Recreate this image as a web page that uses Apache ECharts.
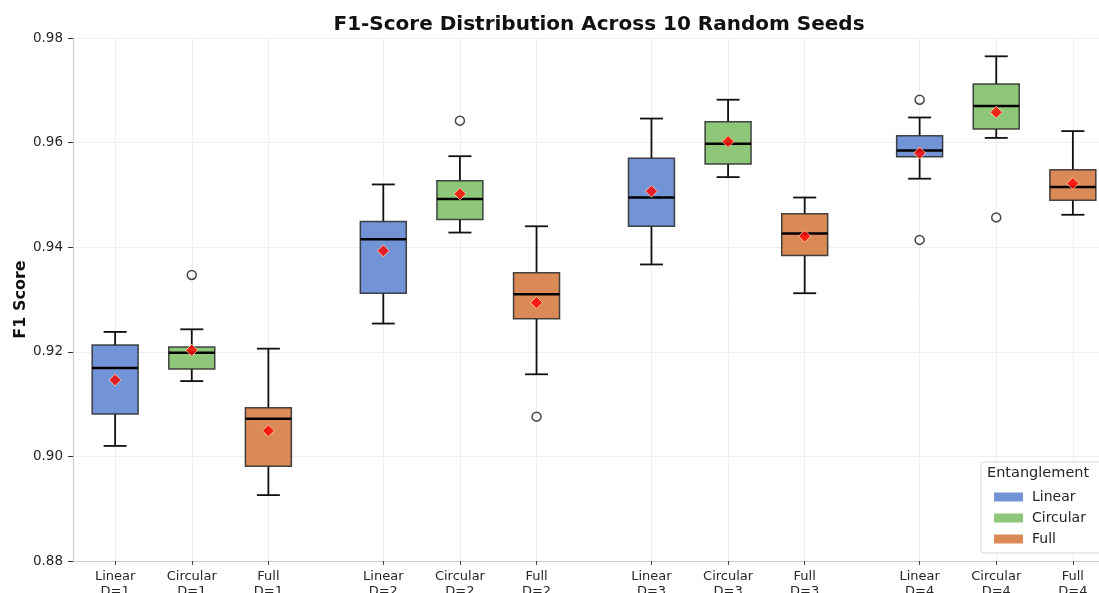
<!DOCTYPE html>
<html>
<head>
<meta charset="utf-8">
<script src="https://cdn.jsdelivr.net/npm/echarts@6/dist/echarts.min.js"></script>
<style>html,body{margin:0;padding:0;background:#fff;}#c{width:1099px;height:593px;}</style>
</head>
<body>
<div id="c"></div>
<script>
// ---- data ----
const types = ['Linear', 'Circular', 'Full'];
const depthLabels = ['D=1', 'D=2', 'D=3', 'D=4'];
// per depth: [whiskerLow, Q1, median, Q3, whiskerHigh]
const linearBox = [
  [0.9020, 0.9081, 0.9169, 0.9213, 0.9238],
  [0.9254, 0.9312, 0.9415, 0.9449, 0.9520],
  [0.9367, 0.9440, 0.9495, 0.9570, 0.9646],
  [0.9531, 0.9573, 0.9585, 0.9613, 0.9648]
];
const circularBox = [
  [0.9144, 0.9167, 0.9198, 0.9209, 0.9243],
  [0.9428, 0.9453, 0.9492, 0.9527, 0.9574],
  [0.9534, 0.9559, 0.9598, 0.9640, 0.9682],
  [0.9609, 0.9626, 0.9670, 0.9712, 0.9765]
];
const fullBox = [
  [0.8926, 0.8981, 0.9072, 0.9093, 0.9206],
  [0.9157, 0.9263, 0.9310, 0.9351, 0.9440],
  [0.9312, 0.9384, 0.9426, 0.9464, 0.9495],
  [0.9462, 0.9490, 0.9515, 0.9548, 0.9622]
];
const linearMean = [0.9146, 0.9393, 0.9507, 0.9580];
const circularMean = [0.9203, 0.9502, 0.9602, 0.9658];
const fullMean = [0.9049, 0.9294, 0.9421, 0.9522];
const linearOutliers = [[], [], [], [0.9682, 0.9414]];
const circularOutliers = [[0.9347], [0.9642], [], [0.9457]];
const fullOutliers = [[], [0.9076], [], []];
const yTicks = [0.88, 0.90, 0.92, 0.94, 0.96, 0.98];

// ---- build ----
const boxes = [linearBox, circularBox, fullBox];
const means = [linearMean, circularMean, fullMean];
const outliers = [linearOutliers, circularOutliers, fullOutliers];
const colors = ['#7294d6', '#8fc77a', '#d98a57'];
const GROUP_STEP = 3.5;
const posOf = (d, t) => d * GROUP_STEP + t;

const tickPos = [], tickText = [];
depthLabels.forEach((dl, d) => types.forEach((tp, t) => {
  tickPos.push(posOf(d, t));
  tickText.push(tp + '\n' + dl);
}));

const FONT = 'DejaVu Sans';
const BOX_W = 0.6;

function renderBox(params, api) {
  const x = api.value(0);
  const lo = api.coord([x, api.value(1)]);
  const q1 = api.coord([x, api.value(2)]);
  const md = api.coord([x, api.value(3)]);
  const q3 = api.coord([x, api.value(4)]);
  const hi = api.coord([x, api.value(5)]);
  const half = api.size([BOX_W, 0])[0] / 2;
  const cap = half / 2;
  const cx = lo[0];
  const ws = { stroke: '#111', lineWidth: 1.8 };
  return {
    type: 'group',
    children: [
      { type: 'line', shape: { x1: cx, y1: lo[1], x2: cx, y2: q1[1] }, style: ws },
      { type: 'line', shape: { x1: cx, y1: q3[1], x2: cx, y2: hi[1] }, style: ws },
      { type: 'line', shape: { x1: cx - cap, y1: lo[1], x2: cx + cap, y2: lo[1] }, style: ws },
      { type: 'line', shape: { x1: cx - cap, y1: hi[1], x2: cx + cap, y2: hi[1] }, style: ws },
      { type: 'rect', shape: { x: cx - half, y: q3[1], width: half * 2, height: q1[1] - q3[1] },
        style: { fill: api.visual('color'), stroke: 'rgba(40,40,40,0.85)', lineWidth: 1.5 } },
      { type: 'line', shape: { x1: cx - half, y1: md[1], x2: cx + half, y2: md[1] },
        style: { stroke: '#000', lineWidth: 2.5 } }
    ]
  };
}

const series = [];
// vertical grid lines at tick positions
series.push({
  type: 'line', data: [], silent: true, z: 0,
  markLine: {
    silent: true, symbol: 'none', label: { show: false }, z: 0,
    lineStyle: { color: '#ebebeb', width: 0.8, type: 'solid' },
    data: tickPos.map(p => ({ xAxis: p }))
  }
});
types.forEach((tp, t) => {
  series.push({
    name: tp,
    type: 'custom',
    renderItem: renderBox,
    itemStyle: { color: colors[t] },
    encode: { x: 0, y: [1, 2, 3, 4, 5] },
    data: boxes[t].map((b, d) => [posOf(d, t)].concat(b)),
    z: 3
  });
});
// means
const meanData = [];
means.forEach((m, t) => m.forEach((v, d) => meanData.push([posOf(d, t), v])));
series.push({
  type: 'scatter', symbol: 'diamond', symbolSize: 12,
  itemStyle: { color: '#ff0000', borderColor: '#ffd9b0', borderWidth: 1 },
  data: meanData, z: 6, silent: true
});
// outliers
const outData = [];
outliers.forEach((o, t) => o.forEach((arr, d) => arr.forEach(v => outData.push([posOf(d, t), v]))));
series.push({
  type: 'scatter', symbol: 'circle', symbolSize: 9,
  itemStyle: { color: 'rgba(255,255,255,0)', borderColor: '#1a1a1a', borderWidth: 1.5 },
  data: outData, z: 6, silent: true
});

const chart = echarts.init(document.getElementById('c'), null, { renderer: 'canvas' });
chart.setOption({
  animation: false,
  backgroundColor: '#fff',
  textStyle: { fontFamily: FONT },
  title: {
    text: 'F1-Score Distribution Across 10 Random Seeds',
    left: 594, top: 10, textAlign: 'center',
    textStyle: { fontFamily: FONT, fontSize: 20, fontWeight: 'bold', color: '#111' }
  },
  grid: { left: 73, top: 38, right: -16, bottom: 32, containLabel: false, outerBoundsMode: 'none' },
  xAxis: {
    type: 'value', min: -0.55, max: 13.05,
    axisLine: { show: true, onZero: false, lineStyle: { color: '#cccccc', width: 1.2 } },
    axisTick: { show: true, length: 4, customValues: tickPos, lineStyle: { color: '#444', width: 1 } },
    axisLabel: {
      customValues: tickPos, margin: 8, fontFamily: FONT, fontSize: 13, color: '#262626', lineHeight: 15,
      formatter: v => { const i = tickPos.findIndex(p => Math.abs(p - v) < 1e-6); return i >= 0 ? tickText[i] : ''; }
    },
    splitLine: { show: false }
  },
  yAxis: {
    type: 'value', min: yTicks[0], max: yTicks[yTicks.length - 1], interval: 0.02,
    name: 'F1 Score', nameLocation: 'middle', nameGap: 44, nameRotate: 90, nameMoveOverlap: false,
    nameTextStyle: { fontFamily: FONT, fontSize: 16, fontWeight: 'bold', color: '#111' },
    axisLine: { show: true, onZero: false, lineStyle: { color: '#cccccc', width: 1.2 } },
    axisTick: { show: true, inside: false, length: 5, lineStyle: { color: '#333', width: 1 } },
    axisLabel: { margin: 10, fontFamily: FONT, fontSize: 13.5, color: '#262626', formatter: v => v.toFixed(2) },
    splitLine: { show: true, lineStyle: { color: '#ebebeb', width: 0.8 } }
  },
  legend: {
    data: types, orient: 'vertical', left: 981, top: 462,
    icon: 'rect', itemWidth: 29, itemHeight: 9, itemGap: 5,
    padding: [27, 30, 6, 13],
    backgroundColor: 'rgba(255,255,255,0.85)', borderColor: '#d6d6d6', borderWidth: 1, borderRadius: 3,
    itemStyle: { borderWidth: 0 },
    textStyle: { fontFamily: FONT, fontSize: 14, color: '#262626', lineHeight: 16, padding: [0, 0, 0, 4] }
  },
  graphic: [{
    type: 'text', left: 987, top: 466, z: 100,
    style: { text: 'Entanglement', fontFamily: FONT, fontSize: 14.5, fill: '#262626' }
  }],
  series: series
});
</script>
</body>
</html>
